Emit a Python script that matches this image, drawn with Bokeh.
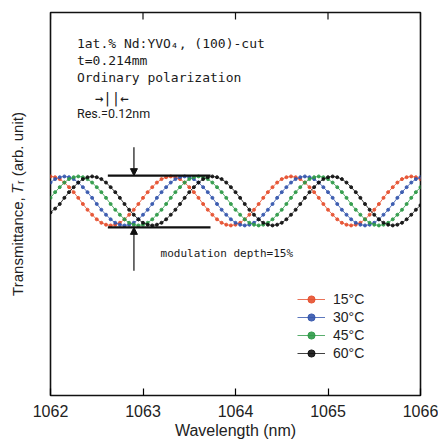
from bokeh.plotting import figure
from bokeh.models import (Range1d, FixedTicker, Legend, LegendItem,
                          Label, Arrow, NormalHead)
from bokeh.embed import file_html
from bokeh.resources import INLINE

# ---------------- data ----------------
wavelength = [round(1062 + 0.05 * i, 2) for i in range(81)]

t15 = [0.572, 0.570, 0.565, 0.556, 0.544, 0.531, 0.516, 0.500, 0.485, 0.472, 0.460, 0.451, 0.446,
       0.444, 0.446, 0.451, 0.460, 0.472, 0.485, 0.500, 0.516, 0.531, 0.544, 0.556, 0.565, 0.570,
       0.572, 0.570, 0.565, 0.556, 0.544, 0.531, 0.516, 0.500, 0.485, 0.472, 0.460, 0.451, 0.446,
       0.444, 0.446, 0.451, 0.460, 0.472, 0.485, 0.500, 0.516, 0.531, 0.544, 0.556, 0.565, 0.570,
       0.572, 0.570, 0.565, 0.556, 0.544, 0.531, 0.516, 0.500, 0.485, 0.472, 0.460, 0.451, 0.446,
       0.444, 0.446, 0.451, 0.460, 0.472, 0.485, 0.500, 0.516, 0.531, 0.544, 0.556, 0.565, 0.570,
       0.572, 0.570, 0.565]

t30 = [0.556, 0.565, 0.570,
       0.572, 0.570, 0.565, 0.556, 0.544, 0.531, 0.516, 0.500, 0.485, 0.472, 0.460, 0.451, 0.446,
       0.444, 0.446, 0.451, 0.460, 0.472, 0.485, 0.500, 0.516, 0.531, 0.544, 0.556, 0.565, 0.570,
       0.572, 0.570, 0.565, 0.556, 0.544, 0.531, 0.516, 0.500, 0.485, 0.472, 0.460, 0.451, 0.446,
       0.444, 0.446, 0.451, 0.460, 0.472, 0.485, 0.500, 0.516, 0.531, 0.544, 0.556, 0.565, 0.570,
       0.572, 0.570, 0.565, 0.556, 0.544, 0.531, 0.516, 0.500, 0.485, 0.472, 0.460, 0.451, 0.446,
       0.444, 0.446, 0.451, 0.460, 0.472, 0.485, 0.500, 0.516, 0.531, 0.544, 0.556, 0.565, 0.570]

t45 = [0.516, 0.531, 0.544, 0.556, 0.565, 0.570,
       0.572, 0.570, 0.565, 0.556, 0.544, 0.531, 0.516, 0.500, 0.485, 0.472, 0.460, 0.451, 0.446,
       0.444, 0.446, 0.451, 0.460, 0.472, 0.485, 0.500, 0.516, 0.531, 0.544, 0.556, 0.565, 0.570,
       0.572, 0.570, 0.565, 0.556, 0.544, 0.531, 0.516, 0.500, 0.485, 0.472, 0.460, 0.451, 0.446,
       0.444, 0.446, 0.451, 0.460, 0.472, 0.485, 0.500, 0.516, 0.531, 0.544, 0.556, 0.565, 0.570,
       0.572, 0.570, 0.565, 0.556, 0.544, 0.531, 0.516, 0.500, 0.485, 0.472, 0.460, 0.451, 0.446,
       0.444, 0.446, 0.451, 0.460, 0.472, 0.485, 0.500, 0.516, 0.531, 0.544]

t60 = [0.478, 0.488, 0.500, 0.516, 0.531, 0.544, 0.556, 0.565, 0.570,
       0.572, 0.570, 0.565, 0.556, 0.544, 0.531, 0.516, 0.500, 0.485, 0.472, 0.460, 0.451, 0.446,
       0.444, 0.446, 0.451, 0.460, 0.472, 0.485, 0.500, 0.516, 0.531, 0.544, 0.556, 0.565, 0.570,
       0.572, 0.570, 0.565, 0.556, 0.544, 0.531, 0.516, 0.500, 0.485, 0.472, 0.460, 0.451, 0.446,
       0.444, 0.446, 0.451, 0.460, 0.472, 0.485, 0.500, 0.516, 0.531, 0.544, 0.556, 0.565, 0.570,
       0.572, 0.570, 0.565, 0.556, 0.544, 0.531, 0.516, 0.500, 0.485, 0.472, 0.460, 0.451, 0.446,
       0.444, 0.446, 0.451, 0.460, 0.472, 0.485, 0.497]

series_labels = ["15°C", "30°C", "45°C", "60°C"]
series_values = [t15, t30, t45, t60]
series_colors = ["#e5502f", "#3556ad", "#2f9a48", "#111111"]

x_ticks = [1062, 1063, 1064, 1065, 1066]

# annotation positions (data coords)
bar_hi, bar_lo = 0.574, 0.439
bar_x0, bar_x1 = 1062.62, 1063.73
arrow_x = 1062.902
arrow_top_start, arrow_bot_start = 0.648, 0.326
top_tick_len = 0.018

# ---------------- figure ----------------
p = figure(width=438, height=446, output_backend="svg", toolbar_location=None,
           x_range=Range1d(1062, 1066), y_range=Range1d(0, 1),
           min_border_left=50, min_border_right=18, min_border_top=12, min_border_bottom=51)
p.background_fill_color = "white"
p.border_fill_color = "white"
p.grid.visible = False
p.outline_line_color = "#111111"
p.outline_line_width = 1.6

# bottom axis
xa = p.xaxis[0]
xa.ticker = FixedTicker(ticks=x_ticks)
xa.axis_line_color = None
xa.major_tick_in = 7
xa.major_tick_out = 0
xa.major_tick_line_width = 1.2
xa.minor_tick_line_color = None
xa.major_label_text_font = "Liberation Sans"
xa.major_label_text_font_size = "16px"
xa.major_label_text_color = "#222222"
xa.major_label_standoff = 9
xa.axis_label = "Wavelength (nm)"
xa.axis_label_text_font = "Liberation Sans"
xa.axis_label_text_font_size = "16px"
xa.axis_label_text_font_style = "normal"
xa.axis_label_text_color = "#222222"
xa.axis_label_standoff = 2

# top ticks (inward), at the same tick positions
p.segment(x0=x_ticks, y0=[1.0] * len(x_ticks), x1=x_ticks,
          y1=[1.0 - top_tick_len] * len(x_ticks), line_color="#111111", line_width=1.2)

# left axis (label only)
ya = p.yaxis[0]
ya.ticker = FixedTicker(ticks=[])
ya.axis_line_color = None
ya.major_tick_line_color = None
ya.minor_tick_line_color = None
ya.major_label_standoff = 0
ya.axis_label = "Transmittance, \U0001D447\u1D63 (arb. unit)"
ya.axis_label_text_font = "Liberation Sans"
ya.axis_label_text_font_size = "15px"
ya.axis_label_text_font_style = "normal"
ya.axis_label_text_color = "#222222"
ya.axis_label_standoff = 25

# curves
items = []
for lab, vals, col in zip(series_labels, series_values, series_colors):
    lr = p.line(wavelength, vals, line_color=col, line_width=1, line_alpha=0.8)
    sr = p.scatter(wavelength, vals, size=3, fill_color=col, line_color=col, alpha=0.9)
    items.append(LegendItem(label=lab, renderers=[lr, sr]))

legend = Legend(items=items, location=(247, 33), glyph_width=28, glyph_height=18,
                label_height=15, spacing=-3, padding=0, margin=0, label_standoff=8,
                label_text_font="Liberation Sans", label_text_font_size="14px",
                label_text_color="#222222",
                border_line_alpha=0, background_fill_alpha=0)
p.add_layout(legend, "center")

# modulation depth bars and arrows
p.segment(x0=[bar_x0, bar_x0], y0=[bar_hi, bar_lo], x1=[bar_x1, bar_x1], y1=[bar_hi, bar_lo],
          line_color="#111111", line_width=2.4)
p.add_layout(Arrow(x_start=arrow_x, y_start=arrow_top_start, x_end=arrow_x, y_end=bar_hi,
                   line_width=1.2, line_color="#111111",
                   end=NormalHead(size=7, fill_color="#111111", line_color="#111111")))
p.add_layout(Arrow(x_start=arrow_x, y_start=arrow_bot_start, x_end=arrow_x, y_end=bar_lo,
                   line_width=1.2, line_color="#111111",
                   end=NormalHead(size=7, fill_color="#111111", line_color="#111111")))

mono = "DejaVu Sans Mono"
texts = [
    ("1at.% Nd:YVO\u2084,  (100)-cut", 1062.286, 0.919, "13px", mono),
    ("t=0.214mm", 1062.286, 0.875, "13px", mono),
    ("Ordinary polarization", 1062.286, 0.831, "13px", mono),
    ("\u2192||\u2190", 1062.48, 0.778, "14px", mono),
    ("Res.=0.12nm", 1062.286, 0.736, "12.5px", "Roboto"),
    ("modulation depth=15%", 1063.19, 0.371, "11px", mono),
]
for t, x, y, fs, font in texts:
    p.add_layout(Label(x=x, y=y, text=t, text_font=font, text_font_size=fs,
                       text_baseline="middle", text_align="left", text_color="#1a1a1a"))

open("out.html", "w").write(file_html(p, INLINE))
